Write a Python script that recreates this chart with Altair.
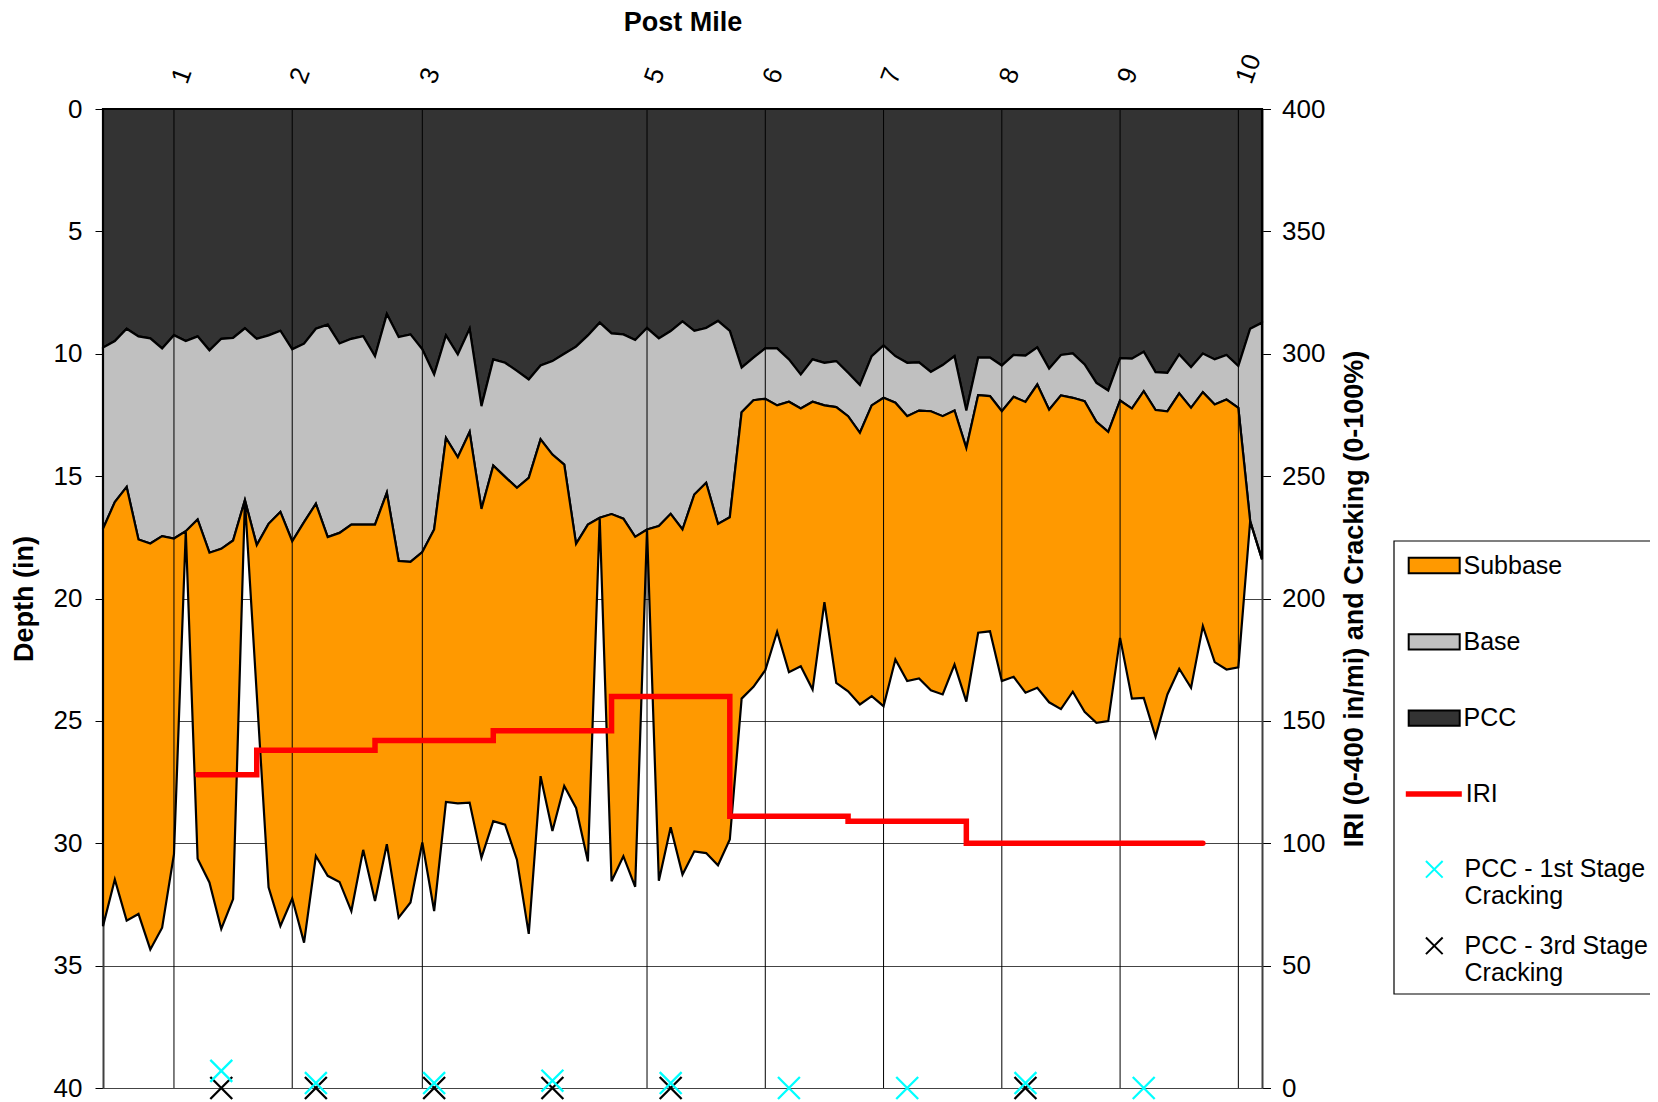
import altair as alt
import pandas as pd

# ---------------- data ----------------
post_mile_idx = [6, 16, 27, 46, 56, 66, 76, 86, 96]
post_mile_labels = ["1", "2", "3", "5", "6", "7", "8", "9", "10"]

pcc_bottom = [9.75, 9.48, 8.98, 9.29, 9.37, 9.78, 9.24, 9.48, 9.29, 9.86,
              9.39, 9.35, 8.96, 9.39, 9.25, 9.06, 9.82, 9.59, 8.98, 8.81,
              9.58, 9.39, 9.28, 10.10, 8.38, 9.32, 9.21, 9.82, 10.85, 9.25,
              10.03, 8.98, 12.14, 10.23, 10.37, 10.70, 11.05, 10.48, 10.30, 10.00,
              9.71, 9.25, 8.73, 9.17, 9.21, 9.44, 8.95, 9.37, 9.07, 8.68,
              9.06, 8.95, 8.66, 9.07, 10.57, 10.16, 9.78, 9.78, 10.23, 10.85,
              10.23, 10.37, 10.30, 10.78, 11.28, 10.10, 9.66, 10.10, 10.37, 10.35,
              10.74, 10.46, 10.10, 12.32, 10.16, 10.16, 10.48, 10.05, 10.08, 9.74,
              10.61, 10.05, 9.99, 10.44, 11.19, 11.50, 10.18, 10.20, 9.92, 10.75,
              10.78, 10.03, 10.55, 9.99, 10.23, 10.05, 10.50, 8.98, 8.73]

base_bottom = [17.15, 16.06, 15.44, 17.59, 17.75, 17.45, 17.55, 17.25, 16.77, 18.13,
               17.97, 17.63, 15.98, 17.82, 16.95, 16.46, 17.66, 16.88, 16.13, 17.49,
               17.32, 16.98, 16.98, 16.98, 15.68, 18.47, 18.50, 18.10, 17.18, 13.44,
               14.23, 13.20, 16.34, 14.57, 15.03, 15.48, 15.07, 13.50, 14.12, 14.53,
               17.77, 16.98, 16.70, 16.55, 16.74, 17.48, 17.18, 17.04, 16.54, 17.18,
               15.75, 15.27, 16.95, 16.68, 12.39, 11.90, 11.84, 12.11, 11.96, 12.24,
               11.96, 12.11, 12.18, 12.55, 13.23, 12.11, 11.80, 12.00, 12.55, 12.32,
               12.35, 12.55, 12.32, 13.85, 11.69, 11.73, 12.35, 11.76, 11.97, 11.26,
               12.29, 11.70, 11.80, 11.94, 12.78, 13.19, 11.91, 12.24, 11.53, 12.30,
               12.35, 11.62, 12.21, 11.57, 12.07, 11.87, 12.21, 16.84, 18.40]

subbase_bottom = [33.39, 31.48, 33.16, 32.89, 34.34, 33.45, 30.45, 17.25, 30.63, 31.60,
                  33.50, 32.28, 15.98, 23.90, 31.80, 33.38, 32.26, 34.06, 30.52, 31.33,
                  31.58, 32.77, 30.27, 32.36, 30.04, 33.04, 32.42, 29.97, 32.77, 28.31,
                  28.37, 28.34, 30.59, 29.10, 29.24, 30.67, 33.70, 27.26, 29.50, 27.66,
                  28.56, 30.74, 16.70, 31.55, 30.53, 31.78, 17.18, 31.53, 29.35, 31.28,
                  30.33, 30.40, 30.90, 29.85, 24.09, 23.61, 22.93, 21.36, 23.01, 22.77,
                  23.72, 20.15, 23.45, 23.79, 24.33, 23.99, 24.40, 22.49, 23.37, 23.27,
                  23.75, 23.92, 22.70, 24.21, 21.40, 21.34, 23.37, 23.20, 23.85, 23.65,
                  24.24, 24.52, 23.81, 24.63, 25.08, 25.01, 21.61, 24.09, 24.06, 25.65,
                  23.92, 22.87, 23.65, 21.13, 22.60, 22.90, 22.81, 16.84, 18.40]

iri_idx = [8, 13, 23, 33, 43, 53, 63, 73, 93]
iri_val = [128, 138, 142, 146, 160, 111, 109, 100, 100]

crack1_idx = [10, 18, 28, 38, 48, 58, 68, 78, 88]
crack1_val = [7, 2, 2, 3, 2, 0, 0, 2, 0]
crack3_idx = [10, 18, 28, 38, 48, 78]
crack3_val = [0, 0, 0, 0, 0, 0]

layer_names = ["Subbase", "Base", "PCC"]
layer_colors = ["#FF9900", "#C0C0C0", "#333333"]
crack_names = ["PCC - 1st Stage Cracking", "PCC - 3rd Stage Cracking"]
crack_colors = ["#00FFFF", "#000000"]

# ---------------- tables ----------------
n = len(pcc_bottom)
rows = []
for i in range(n):
    rows.append({"idx": i, "layer": "PCC", "top": 0.0, "bottom": pcc_bottom[i]})
    rows.append({"idx": i, "layer": "Base", "top": pcc_bottom[i], "bottom": base_bottom[i]})
    rows.append({"idx": i, "layer": "Subbase", "top": base_bottom[i], "bottom": subbase_bottom[i]})
layers_df = pd.DataFrame(rows)

iri_df = pd.DataFrame({"idx": iri_idx, "iri": iri_val, "series": "IRI"})
crack_df = pd.concat([
    pd.DataFrame({"idx": crack3_idx, "val": crack3_val, "series": crack_names[1]}),
    pd.DataFrame({"idx": crack1_idx, "val": crack1_val, "series": crack_names[0]}),
], ignore_index=True)
posts_df = pd.DataFrame({"idx": post_mile_idx})

FONT = "Liberation Sans"
W, H = 1159, 979
xscale = alt.Scale(domain=[0, n - 1], nice=False, zero=False)
label_expr = " : ".join(
    f"datum.value == {v} ? '{l}'" for v, l in zip(post_mile_idx, post_mile_labels)
) + " : ''"

right_axis = alt.Axis(
    orient="right", values=list(range(0, 401, 50)), grid=False,
    tickSize=8.5, tickColor="black", tickWidth=1, labelPadding=11,
    domainColor="#404040", domainWidth=2,
    title="IRI (0-400 in/mi) and Cracking (0-100%)",
    titleAngle=-90, titleX=100.6, titleY=H / 2, titleBaseline="alphabetic",
    titleAlign="center",
)
yright = alt.Scale(domain=[0, 400], nice=False, zero=False)

areas = alt.Chart(layers_df).mark_area(
    stroke="black", strokeWidth=2.2, opacity=1, interpolate="linear"
).encode(
    x=alt.X("idx:Q", scale=xscale, axis=alt.Axis(
        orient="top", values=post_mile_idx, labelExpr=label_expr,
        labelAngle=-70, labelAlign="left", labelBaseline="middle",
        labelPadding=27, labelOffset=5, labelOverlap=False,
        ticks=False, tickSize=0, grid=False,
        domain=True, domainColor="black", domainWidth=2,
        title="Post Mile", titleX=W / 2, titleY=-78.5,
        titleBaseline="alphabetic", titleAlign="center",
    )),
    y=alt.Y("top:Q", scale=alt.Scale(domain=[0, 40], reverse=True, nice=False, zero=False),
            axis=alt.Axis(
                orient="left", values=list(range(0, 41, 5)), grid=True,
                gridColor="#444444", gridWidth=1, tickSize=8, tickColor="black",
                tickWidth=1, labelPadding=13, domainColor="#404040", domainWidth=2,
                title="Depth (in)", titleAngle=-90, titleX=-71, titleY=H / 2,
                titleBaseline="alphabetic", titleAlign="center",
            )),
    y2=alt.Y2("bottom:Q"),
    color=alt.Color("layer:N", scale=alt.Scale(domain=layer_names, range=layer_colors),
                    legend=alt.Legend(
                        title=None, orient="none", legendX=1304.7, legendY=430,
                        symbolType="M-1,-0.3H1V0.3H-1Z", symbolSize=2601,
                        symbolStrokeColor="black", symbolStrokeWidth=2,
                        symbolOpacity=1, rowPadding=36.3, labelOffset=2.8, padding=0,
                    )),
)

rules = alt.Chart(posts_df).mark_rule(color="black", strokeWidth=1).encode(
    x=alt.X("idx:Q", scale=xscale, axis=None)
)

iri = alt.Chart(iri_df).mark_line(
    interpolate="step-after", strokeWidth=5.5, strokeCap="round", strokeJoin="miter"
).encode(
    x=alt.X("idx:Q", scale=xscale, axis=None),
    y=alt.Y("iri:Q", scale=yright, axis=right_axis),
    color=alt.Color("series:N", scale=alt.Scale(domain=["IRI"], range=["#FF0000"]),
                    legend=alt.Legend(
                        title=None, orient="none", legendX=1299.8, legendY=654,
                        symbolType="stroke", symbolSize=3136, symbolStrokeWidth=5.5,
                        labelOffset=1, padding=0,
                    )),
)

cracks = alt.Chart(crack_df).mark_point(
    shape="M-1,-1L1,1M-1,1L1,-1", filled=False, size=480, strokeWidth=2.3, opacity=1
).encode(
    x=alt.X("idx:Q", scale=xscale, axis=alt.Axis(
        orient="bottom", labels=False, ticks=False, grid=False, domain=True,
        domainColor="#808080", domainWidth=3, title=None)),
    y=alt.Y("val:Q", scale=yright, axis=right_axis),
    color=alt.Color("series:N", scale=alt.Scale(domain=crack_names, range=crack_colors),
                    legend=alt.Legend(
                        title=None, orient="none", legendX=1318.8, legendY=747.8,
                        symbolType="M-1,-1L1,1M-1,1L1,-1", symbolSize=279,
                        symbolStrokeWidth=2, symbolOpacity=1, rowPadding=23.5,
                        labelOffset=17.7, padding=0,
                        labelExpr="[slice(datum.label, 0, 15), slice(datum.label, 16)]",
                    )),
)

frame = alt.Chart(alt.Data(values=[{"a": 1}])).mark_rect(
    fill="white", fillOpacity=0, stroke="black", strokeWidth=1.2
).encode(
    x=alt.value(1291), x2=alt.value(1700), y=alt.value(432), y2=alt.value(885)
)

inner = alt.layer(iri, cracks).resolve_scale(color="independent")

chart = alt.layer(areas, rules, inner, frame).resolve_scale(
    y="independent", color="independent"
).resolve_axis(x="independent").properties(
    width=W, height=H,
    autosize=alt.AutoSizeParams(type="none"),
    padding={"left": 95, "top": 101, "right": 388, "bottom": 14},
).configure_view(stroke=None).configure_axis(
    labelFont=FONT, titleFont=FONT, labelColor="black", titleColor="black",
    labelFontSize=26, titleFontSize=27, titleFontWeight="bold",
).configure_legend(
    labelFont=FONT, labelFontSize=25, labelColor="black", labelLimit=400,
)

chart.save("out.html", embed_options={"renderer": "svg", "actions": False})
